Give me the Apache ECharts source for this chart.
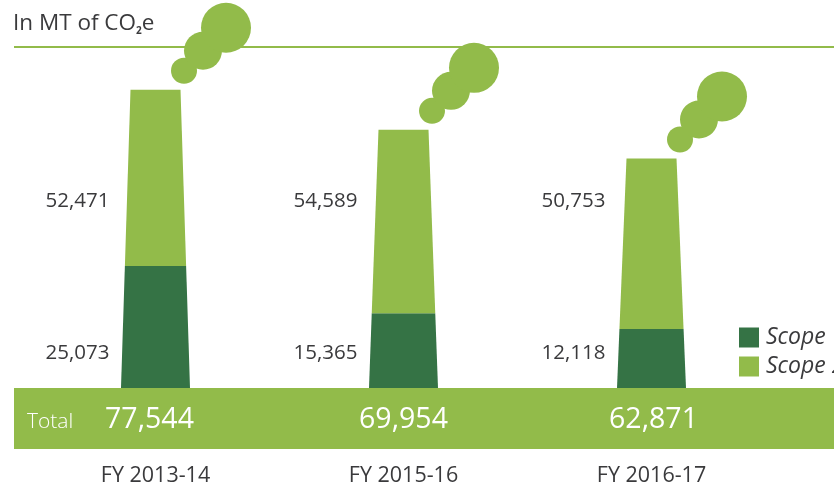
<!DOCTYPE html>
<html>
<head>
<meta charset="utf-8">
<script src="https://cdn.jsdelivr.net/npm/echarts@6/dist/echarts.min.js"></script>
<style>html,body{margin:0;padding:0;background:#fff}#c{width:834px;height:484px}</style>
</head>
<body>
<div id="c"></div>
<script>
const categories = ['FY 2013-14', 'FY 2015-16', 'FY 2016-17'];
const scope1 = [25073, 15365, 12118];
const scope2 = [52471, 54589, 50753];
const totals = [77544, 69954, 62871];

const DARK = '#357345', LIGHT = '#92bb4a', TEXT = '#3a3a3c';
const FONT = '"Open Sans", sans-serif';
const MAX1 = 75700, MAX2 = 109500;
const TOTAL_SHIFT = [-6, 0, 2];
const fmt = v => v.toLocaleString('en-US');

const chart = echarts.init(document.getElementById('c'), null, {renderer: 'canvas'});

function trapezoid(yBottom, yTop, yBase, yChimneyTop, cx, color) {
  const half = y => 34.5 - 9.5 * (yBase - y) / (yBase - yChimneyTop);
  return {
    type: 'polygon',
    shape: {points: [
      [cx - half(yBottom), yBottom], [cx + half(yBottom), yBottom],
      [cx + half(yTop), yTop], [cx - half(yTop), yTop]
    ]},
    style: {fill: color}
  };
}

function bottomPart(params, api) {
  const i = api.value(0), s1 = api.value(1), s2 = api.value(2);
  const [cx, yBase] = api.coord([i, 0]);
  const yS1 = api.coord([i, s1])[1];
  const yTop = api.coord([i, s1 + s2 * MAX1 / MAX2])[1];
  return {type: 'group', children: [
    trapezoid(yBase, yS1, yBase, yTop, cx, DARK),
    {type: 'text', x: cx - 46, y: yBase - 35, style: {
      text: fmt(s1), fill: TEXT, font: '20.5px ' + FONT, align: 'right', verticalAlign: 'middle'}}
  ]};
}

function topPart(params, api) {
  const i = api.value(0), s2 = api.value(1), s1 = api.value(2), total = api.value(3);
  const [cx, yBase] = api.coord([i, 0]);
  const yS1 = api.coord([i, s1 * MAX2 / MAX1])[1];
  const yTop = api.coord([i, s1 * MAX2 / MAX1 + s2])[1];
  const puffs = [[28.5, -19, 13], [47.5, -39, 19], [70.5, -62, 25]];
  const children = [trapezoid(yS1, yTop, yBase, yTop, cx, LIGHT)];
  puffs.forEach(p => children.push({
    type: 'circle', shape: {cx: cx + p[0], cy: yTop + p[1], r: p[2]}, style: {fill: LIGHT}
  }));
  children.push({type: 'text', x: cx - 46, y: yBase - 187, style: {
    text: fmt(s2), fill: TEXT, font: '20.5px ' + FONT, align: 'right', verticalAlign: 'middle'}});
  children.push({type: 'text', x: cx + TOTAL_SHIFT[i], y: yBase + 32, style: {
    text: fmt(total), fill: '#ffffff', font: '28.5px ' + FONT, align: 'center', verticalAlign: 'middle'}});
  return {type: 'group', children};
}

chart.setOption({
  animation: false,
  backgroundColor: '#ffffff',
  grid: {left: 31.5, right: 58.5, top: 20, bottom: 96, containLabel: false, outerBoundsMode: 'none'},
  title: {
    left: 13, top: 12, padding: 0,
    text: '{a|In MT of CO}{s|2}{a|e}',
    textStyle: {rich: {
      a: {fontFamily: FONT, fontSize: 22.5, color: TEXT, fontWeight: 400},
      s: {fontFamily: FONT, fontSize: 10, color: TEXT, verticalAlign: 'bottom', padding: [14, 0, 0, 0]}
    }}
  },
  legend: {
    left: 739, top: 326, orient: 'vertical', itemWidth: 20, itemHeight: 20, itemGap: 6, padding: 0,
    selectedMode: false,
    textStyle: {fontFamily: FONT, fontSize: 23, fontStyle: 'italic', color: TEXT, padding: [0, 0, 0, 2]},
    data: [{name: 'Scope 1', icon: 'rect'}, {name: 'Scope 2', icon: 'rect'}]
  },
  graphic: [
    {type: 'rect', z: -10, silent: true, shape: {x: 14, y: 46, width: 820, height: 2}, style: {fill: LIGHT}},
    {type: 'rect', z: -10, silent: true, shape: {x: 14, y: 388, width: 820, height: 61}, style: {fill: LIGHT}},
    {type: 'text', z: 5, silent: true, x: 27, y: 422, style: {
      text: 'Total', fill: '#ffffff', font: '300 21px ' + FONT, verticalAlign: 'middle'}}
  ],
  xAxis: {
    type: 'category', data: categories,
    axisLine: {show: false}, axisTick: {show: false}, splitLine: {show: false},
    axisLabel: {fontFamily: FONT, fontSize: 21.5, color: TEXT, margin: 77}
  },
  yAxis: [
    {type: 'value', min: 0, max: MAX1, show: false},
    {type: 'value', min: 0, max: MAX2, show: false}
  ],
  series: [
    {name: 'Scope 1', type: 'custom', yAxisIndex: 0, silent: true, itemStyle: {color: DARK},
     renderItem: bottomPart, encode: {x: 0, y: 1},
     data: categories.map((c, i) => [i, scope1[i], scope2[i]])},
    {name: 'Scope 2', type: 'custom', yAxisIndex: 1, silent: true, itemStyle: {color: LIGHT},
     renderItem: topPart, encode: {x: 0, y: 1},
     data: categories.map((c, i) => [i, scope2[i], scope1[i], totals[i]])}
  ]
});
</script>
</body>
</html>
